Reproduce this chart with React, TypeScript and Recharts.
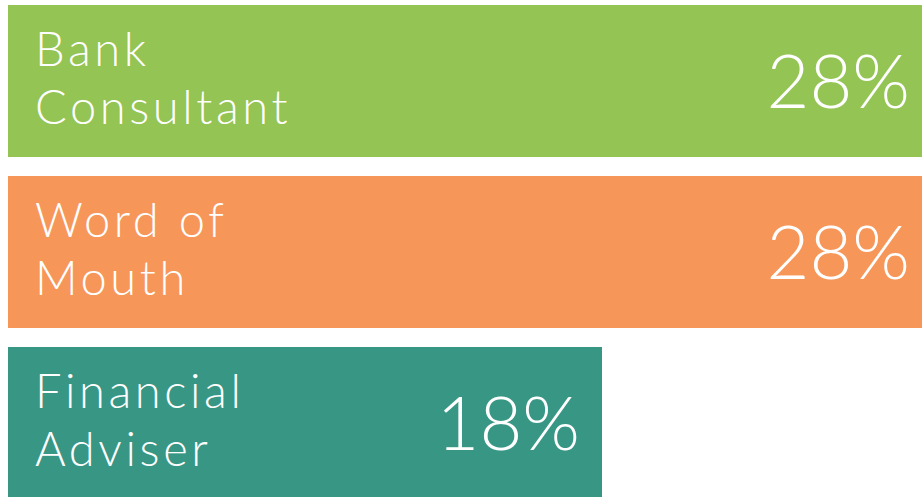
import { Bar, BarChart, Cell, LabelList, XAxis, YAxis } from "recharts";

const sources = ["Bank Consultant", "Word of Mouth", "Financial Adviser"];
const shares = [28, 28, 18];
const colors = ["#93C454", "#F79659", "#389685"];

const data = sources.map((source, i) => ({ source, share: shares[i] }));

const FONT = "Lato, 'Open Sans', sans-serif";

// name on two lines, split at the last space
const NameLabel = (props: any) => {
  const { x, y, height, value } = props;
  const cut = String(value).lastIndexOf(" ");
  const lines = [String(value).slice(0, cut), String(value).slice(cut + 1)];
  const mid = y + height / 2;
  return (
    <text
      x={x + 27}
      fill="#fff"
      fontFamily={FONT}
      fontWeight={300}
      fontSize={47}
      letterSpacing={3.6}
    >
      <tspan x={x + 27} y={mid - 15}>
        {lines[0]}
      </tspan>
      <tspan x={x + 27} y={mid + 43}>
        {lines[1]}
      </tspan>
    </text>
  );
};

const ShareLabel = (props: any) => {
  const { x, y, width, height, value } = props;
  return (
    <text
      x={x + width - 22}
      y={y + height / 2}
      dy={27}
      textAnchor="end"
      fill="#fff"
      fontFamily={FONT}
      fontWeight={300}
      fontSize={74}
    >
      {value}%
    </text>
  );
};

export default function App() {
  return (
    <div
      style={{
        position: "absolute",
        left: 0,
        top: 0,
        width: 922,
        height: 497,
        overflow: "hidden",
        background: "#fff",
      }}
    >
      <div style={{ position: "absolute", left: 0, top: -5.5 }}>
        <BarChart
          width={940}
          height={513}
          data={data}
          layout="vertical"
          margin={{ top: 0, right: 8, bottom: 0, left: 8 }}
        >
          <XAxis type="number" domain={[0, 28]} hide />
          <YAxis type="category" dataKey="source" hide />
          <Bar dataKey="share" barSize={152} isAnimationActive={false}>
            {data.map((d, i) => (
              <Cell key={d.source} fill={colors[i]} />
            ))}
            <LabelList dataKey="source" content={NameLabel} />
            <LabelList dataKey="share" content={ShareLabel} />
          </Bar>
        </BarChart>
      </div>
    </div>
  );
}
